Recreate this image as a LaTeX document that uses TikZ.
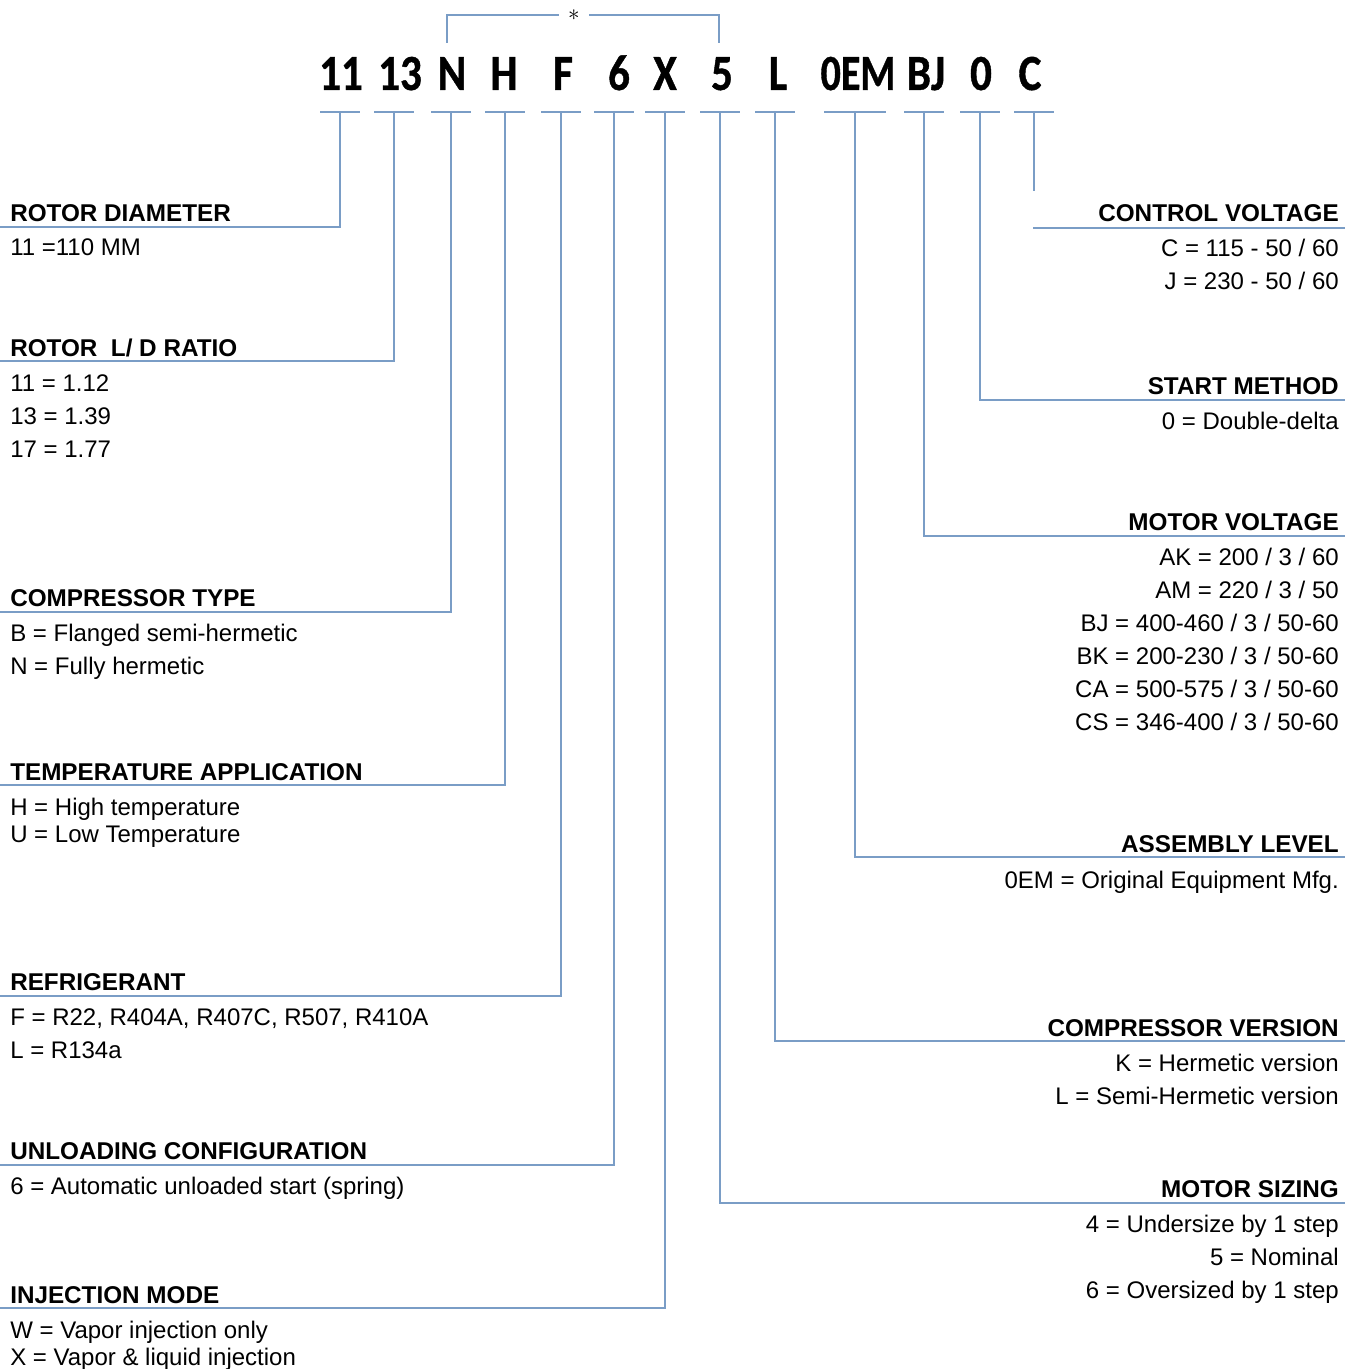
\documentclass[tikz,border=0pt]{standalone}
\usepackage{fontspec}
\setmainfont{Liberation Sans}
\newfontfamily\codefont[FakeStretch=0.85,FakeBold=0.8]{Carlito}
\usetikzlibrary{calc}
\definecolor{leader}{RGB}{122,157,198}

\begin{document}
\begin{tikzpicture}[x=0.75pt,y=-0.75pt,
  leadline/.style={draw=leader,line width=1.6pt},
  codechar/.style={font=\codefont\bfseries\fontsize{38}{38}\selectfont,anchor=base,inner sep=0pt},
  headtxt/.style={font=\bfseries\fontsize{18.2}{18.2}\selectfont,inner sep=0pt},
  entrytxt/.style={font=\fontsize{18}{18}\selectfont,inner sep=0pt}]
  \useasboundingbox (0,0) rectangle (1353,1369);
  % The model code, one node per field, with a short bar under each field
  \node[codechar] (c11)  at (341,90) {11};
  \node[codechar] (c13)  at (400,90) {13};
  \node[codechar] (cN)   at (452,90) {N};
  \node[codechar] (cH)   at (504,90) {H};
  \node[codechar] (cF)   at (563,90) {F};
  \node[codechar] (c6)   at (619,90) {6};
  \node[codechar] (cX)   at (665,90) {X};
  \node[codechar] (c5)   at (722,90) {5};
  \node[codechar] (cL)   at (778,90) {L};
  \node[codechar,xscale=0.93,transform shape] (cOEM) at (858,90) {0EM};
  \node[codechar] (cBJ)  at (926,90) {BJ};
  \node[codechar] (c0)   at (981,90) {0};
  \node[codechar] (cC)   at (1030,90) {C};
  \foreach \nm/\px/\hw in {11/340/20, 13/394/20, N/451/20, H/505/20, F/561/20,
                           6/614/20, X/665/20, 5/720/20, L/775/20, OEM/855/31,
                           BJ/924/20, 0/980/20, C/1034/20}{
    \coordinate (u\nm) at (\px,112);
    \draw[leadline] ($(u\nm)+(-\hw,0)$) -- ($(u\nm)+(\hw,0)$);
  }
  % Bracket over N ... 5
  \node[font=\fontsize{18}{18}\selectfont,inner sep=0pt,inner xsep=7pt] (star) at (574,15) {$\ast$};
  \coordinate (bl) at (447,43);
  \coordinate (br) at (719,43);
  \draw[leadline] (bl) |- (star.west);
  \draw[leadline] (br) |- (star.east);

  % Left-hand keys
  \coordinate (k11) at (340,227);
  \draw[leadline] (u11) -- (k11) -- (0,227);
  \node[headtxt,anchor=base west] (hDiam) at (10,222) {ROTOR DIAMETER};
  \node[entrytxt,anchor=base west] at (10,256) {11 =110 MM};

  \coordinate (k13) at (394,361);
  \draw[leadline] (u13) -- (k13) -- (0,361);
  \node[headtxt,anchor=base west] (hRatio) at (10,356) {ROTOR\ \ L/ D RATIO};
  \node[entrytxt,anchor=base west] at (10,391) {11 = 1.12};
  \node[entrytxt,anchor=base west] at (10,424) {13 = 1.39};
  \node[entrytxt,anchor=base west] at (10,457) {17 = 1.77};

  \coordinate (kN) at (451,612);
  \draw[leadline] (uN) -- (kN) -- (0,612);
  \node[headtxt,anchor=base west] (hType) at (10,606) {COMPRESSOR TYPE};
  \node[entrytxt,anchor=base west] at (10,641) {B = Flanged semi-hermetic};
  \node[entrytxt,anchor=base west] at (10,674) {N = Fully hermetic};

  \coordinate (kH) at (505,785);
  \draw[leadline] (uH) -- (kH) -- (0,785);
  \node[headtxt,anchor=base west] (hTemp) at (10,780) {TEMPERATURE APPLICATION};
  \node[entrytxt,anchor=base west] at (10,815) {H = High temperature};
  \node[entrytxt,anchor=base west] at (10,842) {U = Low Temperature};

  \coordinate (kF) at (561,996);
  \draw[leadline] (uF) -- (kF) -- (0,996);
  \node[headtxt,anchor=base west] (hRefr) at (10,990) {REFRIGERANT};
  \node[entrytxt,anchor=base west] at (10,1025) {F = R22, R404A, R407C, R507, R410A};
  \node[entrytxt,anchor=base west] at (10,1058) {L = R134a};

  \coordinate (k6) at (614,1165);
  \draw[leadline] (u6) -- (k6) -- (0,1165);
  \node[headtxt,anchor=base west] (hUnld) at (10,1159) {UNLOADING CONFIGURATION};
  \node[entrytxt,anchor=base west] at (10,1194) {6 = Automatic unloaded start (spring)};

  \coordinate (kX) at (665,1308);
  \draw[leadline] (uX) -- (kX) -- (0,1308);
  \node[headtxt,anchor=base west] (hInj) at (10,1303) {INJECTION MODE};
  \node[entrytxt,anchor=base west] at (10,1338) {W = Vapor injection only};
  \node[entrytxt,anchor=base west] at (10,1365) {X = Vapor \& liquid injection};

  % Right-hand keys
  \coordinate (kC) at (1034,191);
  \draw[leadline] (uC) -- (kC);
  \draw[leadline] (1033,228) -- (1345,228);
  \node[headtxt,anchor=base east] (hCtrl) at (1339,222) {CONTROL VOLTAGE};
  \node[entrytxt,anchor=base east] at (1339,257) {C = 115 - 50 / 60};
  \node[entrytxt,anchor=base east] at (1339,290) {J = 230 - 50 / 60};

  \coordinate (k0) at (980,400);
  \draw[leadline] (u0) -- (k0) -- (1345,400);
  \node[headtxt,anchor=base east] (hStart) at (1339,394) {START METHOD};
  \node[entrytxt,anchor=base east] at (1339,429) {0 = Double-delta};

  \coordinate (kBJ) at (924,536);
  \draw[leadline] (uBJ) -- (kBJ) -- (1345,536);
  \node[headtxt,anchor=base east] (hMotV) at (1339,530) {MOTOR VOLTAGE};
  \node[entrytxt,anchor=base east] at (1339,565) {AK = 200 / 3 / 60};
  \node[entrytxt,anchor=base east] at (1339,598) {AM = 220 / 3 / 50};
  \node[entrytxt,anchor=base east] at (1339,631) {BJ = 400-460 / 3 / 50-60};
  \node[entrytxt,anchor=base east] at (1339,664) {BK = 200-230 / 3 / 50-60};
  \node[entrytxt,anchor=base east] at (1339,697) {CA = 500-575 / 3 / 50-60};
  \node[entrytxt,anchor=base east] at (1339,730) {CS = 346-400 / 3 / 50-60};

  \coordinate (kOEM) at (855,857);
  \draw[leadline] (uOEM) -- (kOEM) -- (1345,857);
  \node[headtxt,anchor=base east] (hAsm) at (1339,852) {ASSEMBLY LEVEL};
  \node[entrytxt,anchor=base east] at (1339,888) {0EM = Original Equipment Mfg.};

  \coordinate (kL) at (775,1041);
  \draw[leadline] (uL) -- (kL) -- (1345,1041);
  \node[headtxt,anchor=base east] (hVers) at (1339,1036) {COMPRESSOR VERSION};
  \node[entrytxt,anchor=base east] at (1339,1071) {K = Hermetic version};
  \node[entrytxt,anchor=base east] at (1339,1104) {L = Semi-Hermetic version};

  \coordinate (k5) at (720,1203);
  \draw[leadline] (u5) -- (k5) -- (1345,1203);
  \node[headtxt,anchor=base east] (hSize) at (1339,1197) {MOTOR SIZING};
  \node[entrytxt,anchor=base east] at (1339,1232) {4 = Undersize by 1 step};
  \node[entrytxt,anchor=base east] at (1339,1265) {5 = Nominal};
  \node[entrytxt,anchor=base east] at (1339,1298) {6 = Oversized by 1 step};
\end{tikzpicture}
\end{document}
